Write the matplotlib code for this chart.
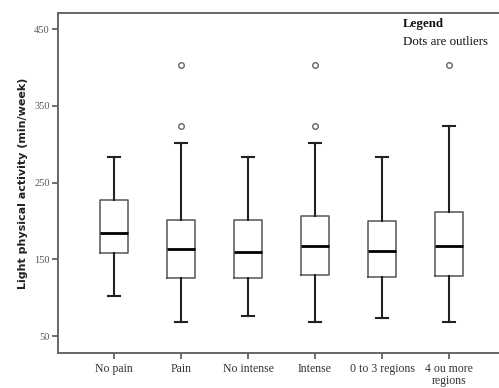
import matplotlib
matplotlib.use("Agg")
import matplotlib.pyplot as plt

# Box plot summaries (min/week)
groups = ["No pain", "Pain", "No intense", "Intense", "0 to 3 regions", "4 ou more\nregions"]
whisker_low = [102, 68, 76, 68, 74, 68]
q1 = [158, 126, 126, 130, 127, 128]
median = [184, 164, 160, 167, 161, 167]
q3 = [228, 201, 201, 207, 200, 212]
whisker_high = [283, 301, 283, 301, 283, 324]
outliers = [[], [324, 403], [], [324, 403], [], [403]]

yticks = [50, 150, 250, 350, 450]

stats = []
for i, name in enumerate(groups):
    stats.append({
        "label": name,
        "whislo": whisker_low[i],
        "q1": q1[i],
        "med": median[i],
        "q3": q3[i],
        "whishi": whisker_high[i],
        "fliers": outliers[i],
    })

fig = plt.figure(figsize=(4.99, 3.88), dpi=100)
ax = fig.add_axes([0.1162, 0.0902, 0.896, 0.8763])

ax.bxp(
    stats,
    widths=0.42,
    showfliers=True,
    boxprops=dict(color="#555555", linewidth=1.1),
    whiskerprops=dict(color="#222222", linewidth=1.5),
    capprops=dict(color="#222222", linewidth=1.5),
    medianprops=dict(color="black", linewidth=2.0),
    flierprops=dict(marker="o", markersize=4, markerfacecolor="white",
                    markeredgecolor="#666666", markeredgewidth=1.0),
    capwidths=0.19,
)

ax.set_xlim(0.164, 6.836)
ax.set_ylim(28, 471)
ax.set_yticks(yticks)
ax.set_yticklabels([str(t) for t in yticks], fontsize=7.5, family="Liberation Serif")
ax.set_xticklabels(groups, fontsize=8.5, family="Liberation Serif", linespacing=0.95)
ax.tick_params(axis="both", direction="out", length=4, width=1.2, colors="#555555", labelcolor="#333333")
ax.tick_params(axis="y", labelcolor="#555555", pad=2)

for s in ax.spines.values():
    s.set_color("#666666")
    s.set_linewidth(1.4)

ax.set_ylabel("Light physical activity (min/week)", fontsize=8, fontweight="bold",
              family="DejaVu Sans", color="#222222", labelpad=4)

ax.text(0.772, 0.968, "Legend", transform=ax.transAxes, fontsize=9.3, fontweight="bold",
        family="Liberation Serif", va="center", ha="left", color="#111111")
ax.text(0.772, 0.915, "Dots are outliers", transform=ax.transAxes, fontsize=9.3,
        family="Liberation Serif", va="center", ha="left", color="#111111")

fig.savefig("out.png", dpi=100)
